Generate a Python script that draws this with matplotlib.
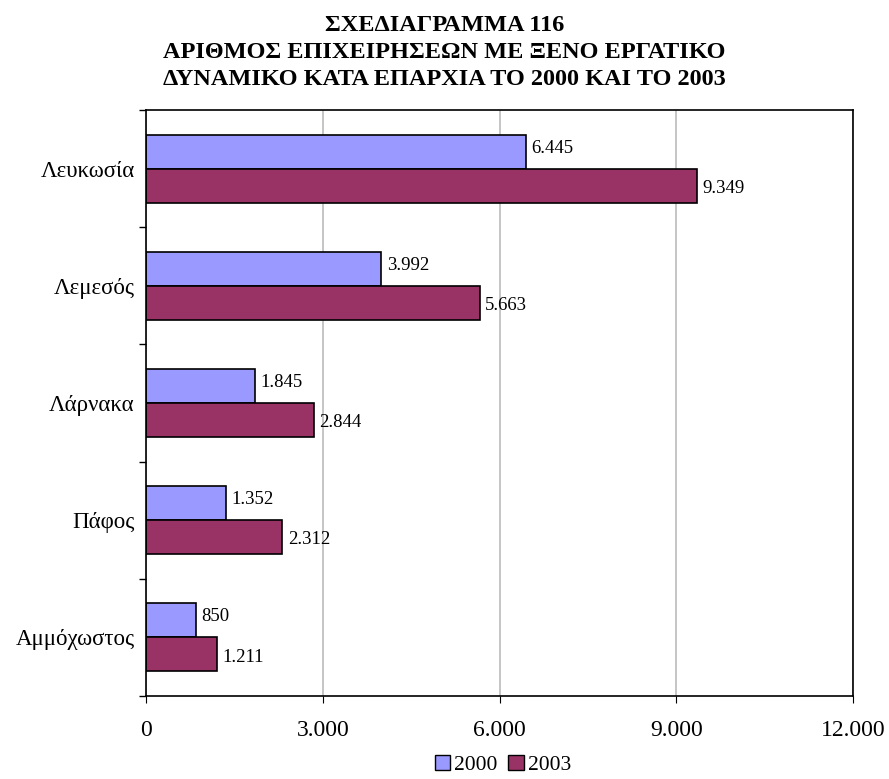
import matplotlib
matplotlib.use("Agg")
import matplotlib.pyplot as plt
import numpy as np
from matplotlib.patches import Patch
from matplotlib.ticker import FuncFormatter

categories = ["Λευκωσία", "Λεμεσός", "Λάρνακα", "Πάφος", "Αμμόχωστος"]
years = ["2000", "2003"]
values_2000 = [6445, 3992, 1845, 1352, 850]
values_2003 = [9349, 5663, 2844, 2312, 1211]
xticks = [0, 3000, 6000, 9000, 12000]

title = ("ΣΧΕΔΙΑΓΡΑΜΜΑ 116\nΑΡΙΘΜΟΣ ΕΠΙΧΕΙΡΗΣΕΩΝ ΜΕ ΞΕΝΟ ΕΡΓΑΤΙΚΟ\n"
         "ΔΥΝΑΜΙΚΟ ΚΑΤΑ ΕΠΑΡΧΙΑ ΤΟ 2000 ΚΑΙ ΤΟ 2003")

plt.rcParams['font.family'] = ['Liberation Serif', 'DejaVu Serif']

def fmt(v):
    return f"{int(v):,}".replace(",", ".")

fig = plt.figure(figsize=(8.89, 7.79), dpi=100)
ax = fig.add_axes([146/889, 1-696/779, (853-146)/889, (696-110)/779])

n = len(categories)
pos = np.arange(n)
h = 0.29
c2000 = "#9999FF"
c2003 = "#993366"
b1 = ax.barh(pos - h/2, values_2000, height=h, color=c2000, edgecolor="black", linewidth=1.2)
b2 = ax.barh(pos + h/2, values_2003, height=h, color=c2003, edgecolor="black", linewidth=1.2)

for bars, vals, dy in ((b1, values_2000, 2.5), (b2, values_2003, -2)):
    for rect, v in zip(bars, vals):
        ax.annotate(fmt(v), (v, rect.get_y() + rect.get_height()/2),
                    xytext=(4, dy), textcoords="offset points",
                    va="center", ha="left", fontsize=13.5)

ax.set_xlim(0, 12000)
ax.set_ylim(n - 0.5, -0.5)
ax.set_xticks(xticks)
ax.xaxis.set_major_formatter(FuncFormatter(lambda v, p: fmt(v)))
ax.set_yticks(pos)
ax.set_yticklabels(categories, fontsize=16.5)
ax.set_yticks(np.arange(n + 1) - 0.5, minor=True)
ax.tick_params(axis="y", which="major", length=0, pad=8)
ax.tick_params(axis="y", which="minor", length=5, direction="out", width=1)
ax.tick_params(axis="x", which="major", length=5, direction="out", labelsize=17, pad=12)
ax.xaxis.grid(True, color="#BBBBBB", linewidth=1.2)
ax.set_axisbelow(True)
for s in ax.spines.values():
    s.set_linewidth(1.2)
    s.set_color("black")

fig.suptitle(title, fontsize=17.5, fontweight="bold", y=0.981, linespacing=1.37)

handles = [Patch(facecolor=c2000, edgecolor="black", label=years[0]),
           Patch(facecolor=c2003, edgecolor="black", label=years[1])]
fig.legend(handles=handles, loc="center", bbox_to_anchor=(503/889, 1-765/779),
           ncol=2, frameon=False, fontsize=15.5, handlelength=0.7, handleheight=0.7,
           handletextpad=0.2, columnspacing=0.5, borderpad=0)

fig.savefig("out.png", dpi=100)
